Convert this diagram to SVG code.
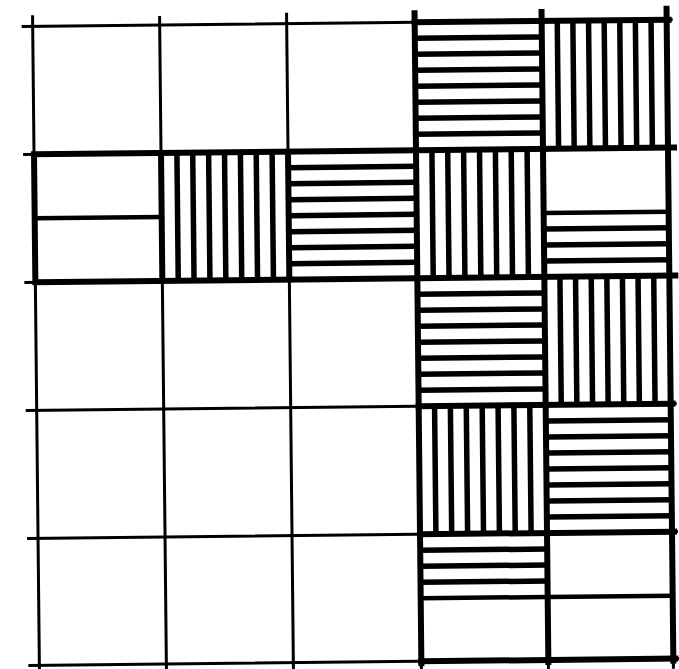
<svg xmlns="http://www.w3.org/2000/svg" width="679" height="669" viewBox="0 0 679 669">
<style>
.thin{stroke:#000;stroke-width:3;fill:none;stroke-linecap:butt}
.thick{stroke:#000;stroke-width:6;fill:none;stroke-linecap:square}
.split{stroke:#000;stroke-width:4.5;fill:none}
.hatch{stroke:#000;stroke-width:5.5;fill:none}
</style>
<rect width="679" height="669" fill="#fff"/>
<g transform="rotate(-0.6 352 342)">
  <g id="grid">
    <path class="thin" d="M25 23H676M25 151H676M25 279H676M25 407H676M25 535H676M25 662H676"/>
    <path class="thin" d="M36 12V672M163 14V672M290 12V672M418 12V672M545 12V672M670 12V672"/>
  </g>
  <g id="r0c3"><path class="hatch" d="M418 39H545M418 55H545M418 71H545M418 87H545M418 103H545M418 119H545M418 135H545"/></g>
  <g id="r0c4"><path class="hatch" d="M560.6 23V151M576.2 23V151M591.9 23V151M607.5 23V151M623.1 23V151M638.7 23V151M654.4 23V151"/></g>
  <g id="r1c0"><path class="split" d="M36 215H163"/></g>
  <g id="r1c1"><path class="hatch" d="M178.9 151V279M194.7 151V279M210.6 151V279M226.5 151V279M242.4 151V279M258.2 151V279M274.1 151V279"/></g>
  <g id="r1c2"><path class="hatch" d="M290 167H418M290 183H418M290 199H418M290 215H418M290 231H418M290 247H418M290 263H418"/></g>
  <g id="r1c3"><path class="hatch" d="M433.9 151V279M449.7 151V279M465.6 151V279M481.5 151V279M497.4 151V279M513.2 151V279M529.1 151V279"/></g>
  <g id="r1c4"><path class="split" d="M545 215H670"/><path class="hatch" d="M545 231H670M545 247H670M545 263H670"/></g>
  <g id="r2c3"><path class="hatch" d="M418 295H545M418 311H545M418 327H545M418 343H545M418 359H545M418 375H545M418 391H545"/></g>
  <g id="r2c4"><path class="hatch" d="M560.6 279V407M576.2 279V407M591.9 279V407M607.5 279V407M623.1 279V407M638.7 279V407M654.4 279V407"/></g>
  <g id="r3c3"><path class="hatch" d="M433.9 407V535M449.7 407V535M465.6 407V535M481.5 407V535M497.4 407V535M513.2 407V535M529.1 407V535"/></g>
  <g id="r3c4"><path class="hatch" d="M545 423H670M545 439H670M545 455H670M545 471H670M545 487H670M545 503H670M545 519H670"/></g>
  <g id="r4c3"><path class="hatch" d="M418 551H545M418 567H545M418 583H545"/><path class="split" d="M418 599H545"/></g>
  <g id="r4c4"><path class="split" d="M545 599H670"/></g>
  <g id="outlines">
    <path class="thick" d="M36 151H676M36 279H676M36 151V279M163 151V279M290 151V279"/>
    <path class="thick" d="M418 23H672M418 407H672M418 535H672M418 662H672"/>
    <path class="thick" d="M418 14V664M545 14V664M670 12V664"/>
  </g>
</g>
</svg>
